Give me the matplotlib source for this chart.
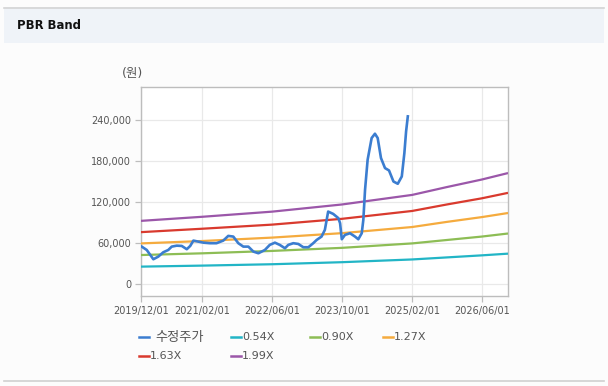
import matplotlib
matplotlib.use("Agg")
import matplotlib.pyplot as plt
import matplotlib.dates as mdates
from matplotlib.lines import Line2D
from matplotlib.patches import Rectangle
import pandas as pd

plt.rcParams['font.family'] = ['DejaVu Sans', 'Noto Sans CJK KR']

# ---------------- data ----------------
price_dates = [
    "2019-12-06", "2020-01-10", "2020-02-25", "2020-03-30", "2020-05-04", "2020-06-08",
    "2020-07-02", "2020-08-06", "2020-09-10", "2020-10-15", "2020-11-08", "2020-11-30",
    "2021-01-04", "2021-02-08", "2021-03-25", "2021-05-10", "2021-06-26", "2021-07-31",
    "2021-09-04", "2021-10-09", "2021-11-13", "2021-12-18", "2022-01-22", "2022-02-26",
    "2022-04-12", "2022-05-16", "2022-06-21", "2022-07-25", "2022-08-30", "2022-09-22",
    "2022-10-27", "2022-12-01", "2023-01-05", "2023-02-09", "2023-03-15", "2023-04-08",
    "2023-05-12", "2023-06-04", "2023-06-27", "2023-08-01", "2023-09-06", "2023-09-18",
    "2023-09-30", "2023-10-22", "2023-11-26", "2023-12-31", "2024-01-23", "2024-02-16",
    "2024-02-27", "2024-03-10", "2024-03-28", "2024-04-25", "2024-05-18", "2024-06-06",
    "2024-06-29", "2024-07-27", "2024-08-24", "2024-09-24", "2024-10-24", "2024-11-21",
    "2024-12-09", "2024-12-21", "2025-01-02",
]
price_values = [
    54300, 49400, 35800, 39600, 46000, 49400,
    54300, 55700, 55300, 50500, 55300, 63100,
    61600, 60100, 59300, 59300, 63100, 70000,
    69000, 59300, 54300, 54300, 47000, 44600,
    49400, 56800, 60100, 56800, 51900, 56800,
    59300, 58200, 53400, 53400, 59300, 64100,
    69000, 78800, 105600, 102200, 96000, 88600,
    65100, 71400, 73900, 69000, 65100, 73900,
    93400, 137500, 181500, 213300, 219600, 213300,
    184000, 169300, 165800, 149600, 146300, 157000,
    191300, 223000, 245000,
]

band_dates = ["2019-12-01", "2021-02-01", "2022-06-01", "2023-10-01",
              "2025-02-01", "2025-10-01", "2026-06-01", "2026-12-01"]
band_054 = [25000, 26500, 28500, 31500, 35500, 38500, 41500, 44000]
band_090 = [42000, 44500, 48000, 52500, 59000, 64000, 69000, 73500]
band_127 = [59000, 62500, 67500, 74000, 83000, 90500, 97500, 103500]
band_163 = [75500, 80500, 86500, 95000, 106500, 116000, 125000, 133000]
band_199 = [92000, 98000, 105500, 116000, 130000, 141500, 152500, 162000]

series_labels = ["수정주가", "0.54X", "0.90X", "1.27X", "1.63X", "1.99X"]
series_colors = ["#3b7dd0", "#22b5c6", "#8dbd55", "#f5ab3e", "#d93a2e", "#9b57a9"]

x_ticks = ["2019-12-01", "2021-02-01", "2022-06-01", "2023-10-01", "2025-02-01", "2026-06-01"]
y_ticks = [0, 60000, 120000, 180000, 240000]

# ---------------- figure ----------------
W, H = 608, 386
fig = plt.figure(figsize=(W / 100, H / 100), dpi=100, facecolor="#fcfcfc")

# header bar
fig.add_artist(Rectangle((4 / W, 1 - 43 / H), 600 / W, 36 / H, transform=fig.transFigure,
                         facecolor="#eff3f8", edgecolor="none", zorder=0))
fig.add_artist(Line2D([4 / W, 604 / W], [1 - 7.5 / H, 1 - 7.5 / H], transform=fig.transFigure,
                      color="#d4d4d4", lw=1.2))
fig.add_artist(Line2D([4 / W, 604 / W], [1 - 381 / H, 1 - 381 / H], transform=fig.transFigure,
                      color="#d0d0d0", lw=1.2))
fig.text(17 / W, 1 - 25.5 / H, "PBR Band", fontsize=8.4, fontweight="bold",
         color="#111111", va="center", ha="left")

ax = fig.add_axes([141 / W, 1 - 296 / H, 367 / W, 209 / H])
ax.set_facecolor("#ffffff")

bd = pd.to_datetime(band_dates)
bands = [band_054, band_090, band_127, band_163, band_199]
for vals, col, lab in zip(bands, series_colors[1:], series_labels[1:]):
    ax.plot(bd, vals, color=col, lw=1.6, label=lab, solid_capstyle="butt", zorder=3)
ax.plot(pd.to_datetime(price_dates), price_values, color=series_colors[0], lw=1.9,
        label=series_labels[0], zorder=4)

ax.set_xlim(pd.Timestamp("2019-12-01"), pd.Timestamp("2026-12-01"))
ax.set_ylim(-18000, 288000)
ax.set_xticks(pd.to_datetime(x_ticks))
ax.xaxis.set_major_formatter(mdates.DateFormatter("%Y/%m/%d"))
ax.set_yticks(y_ticks)
ax.set_yticklabels([f"{v:,}" for v in y_ticks])
ax.grid(True, color="#e9e9e9", lw=0.9, zorder=0)
ax.set_axisbelow(True)
for s in ax.spines.values():
    s.set_color("#bdbdbd")
    s.set_linewidth(1.0)
ax.tick_params(axis="both", colors="#bdbdbd", labelcolor="#555555", labelsize=7.0,
               length=4, width=0.9)
ax.tick_params(axis="x", pad=3)
ax.tick_params(axis="y", pad=3)

fig.text(122 / W, 1 - 74 / H, "(원)", fontsize=9, color="#555555", va="center", ha="left")

# legend (manual layout)
leg_pos = [(139, 337), (231, 337), (310, 337), (383, 337), (139, 356), (231, 356)]
for (px, py), lab, col in zip(leg_pos, series_labels, series_colors):
    fig.add_artist(Line2D([px / W, (px + 10) / W], [1 - py / H, 1 - py / H],
                          transform=fig.transFigure, color=col, lw=1.8))
    korean = lab == "수정주가"
    off = 16 if korean else 11
    fig.text((px + off) / W, 1 - py / H, lab, fontsize=9.5 if korean else 8.0,
             color="#555555", va="center", ha="left",
             family=["Noto Sans CJK KR"] if korean else ["DejaVu Sans"])

fig.savefig("out.png", dpi=100, facecolor=fig.get_facecolor())
